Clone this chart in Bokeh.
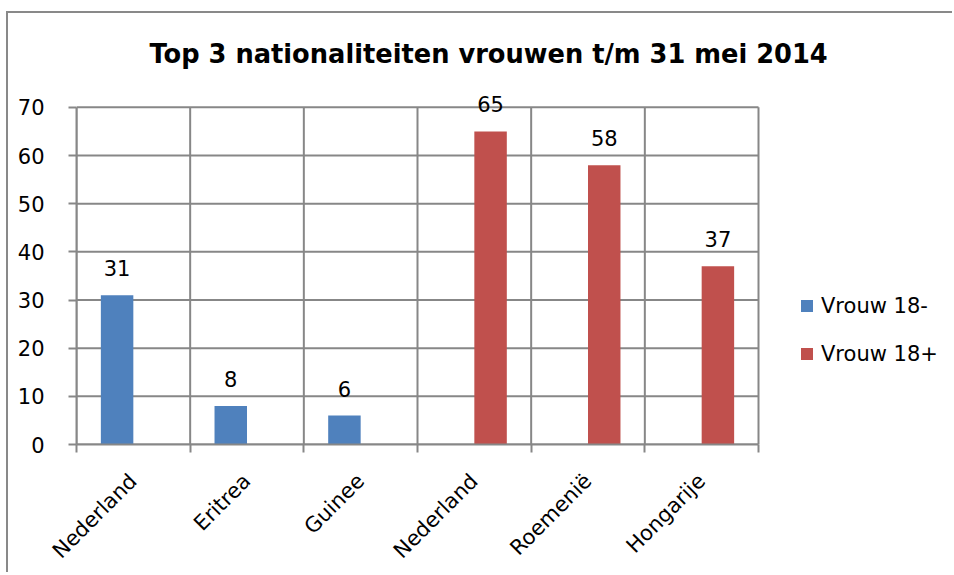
from bokeh.plotting import figure
from bokeh.models import (Range1d, FixedTicker, Legend, LegendItem, LabelSet,
                          ColumnDataSource)
from bokeh.core.properties import value
from bokeh.transform import dodge
from bokeh.embed import file_html
from bokeh.resources import INLINE
from math import pi

# ---- data ----
title_text = "Top 3 nationaliteiten vrouwen t/m 31 mei 2014"
categories = ["Nederland", "Eritrea", "Guinee", "Nederland", "Roemenië", "Hongarije"]
series_names = ["Vrouw 18-", "Vrouw 18+"]
vrouw_min_cats = [0, 1, 2]          # category index of the "Vrouw 18-" values
vrouw_min = [31, 8, 6]
vrouw_plus_cats = [3, 4, 5]         # category index of the "Vrouw 18+" values
vrouw_plus = [65, 58, 37]
y_ticks = [0, 10, 20, 30, 40, 50, 60, 70]

BLUE = "#4F81BD"
RED = "#C0504D"
GRID = "#878787"
FONT = "DejaVu Sans"

n = len(categories)
centers = [i + 0.5 for i in range(n)]
bounds_x = list(range(n + 1))
bar_w = 1 / 3.5

# frame geometry: plot area is 682 px for the 6 categories; the frame also covers the legend area
W, H = 946, 561
ML, MT, MB = 68, 77, 129
frame_w = W - ML
x_max = n * frame_w / 682.0

src_min = ColumnDataSource(dict(x=[centers[i] for i in vrouw_min_cats], y=vrouw_min,
                                lab=[str(v) for v in vrouw_min]))
src_plus = ColumnDataSource(dict(x=[centers[i] for i in vrouw_plus_cats], y=vrouw_plus,
                                 lab=[str(v) for v in vrouw_plus]))

p = figure(width=W, height=H, output_backend="svg", toolbar_location=None,
           x_range=Range1d(0, x_max), y_range=Range1d(0, 73.5),
           min_border_left=ML, min_border_right=0, min_border_top=MT, min_border_bottom=MB)
p.styles = {"margin-left": "6px", "margin-top": "11px",
            "border-left": "2px solid #898989", "border-top": "2px solid #898989"}
p.outline_line_color = None
p.background_fill_color = "white"
p.border_fill_color = "white"
p.xgrid.visible = False
p.ygrid.visible = False

# horizontal grid lines (at the y ticks) and vertical category separators
p.segment(x0=[bounds_x[0]] * len(y_ticks), y0=y_ticks, x1=[bounds_x[-1]] * len(y_ticks),
          y1=y_ticks, line_color=GRID, line_width=2, level="underlay")
p.segment(x0=bounds_x, y0=[y_ticks[0]] * len(bounds_x), x1=bounds_x,
          y1=[y_ticks[-1]] * len(bounds_x), line_color=GRID, line_width=2, level="underlay")

r1 = p.vbar(x=dodge("x", -bar_w / 2, range=p.x_range), top="y", width=bar_w,
            source=src_min, color=BLUE, line_color=None)
r2 = p.vbar(x=dodge("x", bar_w / 2, range=p.x_range), top="y", width=bar_w,
            source=src_plus, color=RED, line_color=None)

for src, off in ((src_min, -bar_w / 2), (src_plus, bar_w / 2)):
    p.add_layout(LabelSet(x=dodge("x", off, range=p.x_range), y="y", text="lab", source=src,
                          text_align="center", text_baseline="alphabetic", y_offset=19,
                          text_font=value(FONT), text_font_size="21px", text_color="black"))

# title
p.title.text = title_text
p.title.text_font = FONT
p.title.text_font_size = "25.7px"
p.title.text_font_style = "bold"
p.title.text_color = "black"
p.title.align = "left"
p.title.offset = 73
p.title.standoff = 44

# x axis
p.xaxis.bounds = (bounds_x[0], bounds_x[-1])
p.xaxis.ticker = FixedTicker(ticks=centers, minor_ticks=bounds_x)
p.xaxis.major_label_overrides = {c: lab for c, lab in zip(centers, categories)}
p.xaxis.major_label_orientation = pi / 4
p.xaxis.major_tick_line_color = None
p.xaxis.major_tick_out = 8
p.xaxis.major_tick_in = 0
p.xaxis.minor_tick_line_color = GRID
p.xaxis.minor_tick_line_width = 2
p.xaxis.minor_tick_out = 8
p.xaxis.minor_tick_in = 0
p.xaxis.axis_line_color = GRID
p.xaxis.axis_line_width = 2
p.xaxis.major_label_text_font = FONT
p.xaxis.major_label_text_font_size = "21px"
p.xaxis.major_label_text_color = "black"
p.xaxis.major_label_standoff = 25

# y axis
p.yaxis.ticker = FixedTicker(ticks=y_ticks, minor_ticks=[])
p.yaxis.bounds = (y_ticks[0], y_ticks[-1])
p.yaxis.major_tick_out = 8
p.yaxis.major_tick_in = 0
p.yaxis.major_tick_line_color = GRID
p.yaxis.major_tick_line_width = 2
p.yaxis.axis_line_color = GRID
p.yaxis.axis_line_width = 2
p.yaxis.major_label_text_font = FONT
p.yaxis.major_label_text_font_size = "21px"
p.yaxis.major_label_text_color = "black"
p.yaxis.major_label_standoff = 24

legend = Legend(items=[LegendItem(label=series_names[0], renderers=[r1]),
                       LegendItem(label=series_names[1], renderers=[r2])],
                location=(723, 78.5), padding=0, margin=0, spacing=24,
                glyph_width=15, glyph_height=15, label_height=15, label_standoff=7,
                label_text_font=FONT, label_text_font_size="21px", label_text_color="black",
                border_line_color=None, background_fill_alpha=0)
p.add_layout(legend)

open("out.html", "w").write(file_html(p, INLINE))
